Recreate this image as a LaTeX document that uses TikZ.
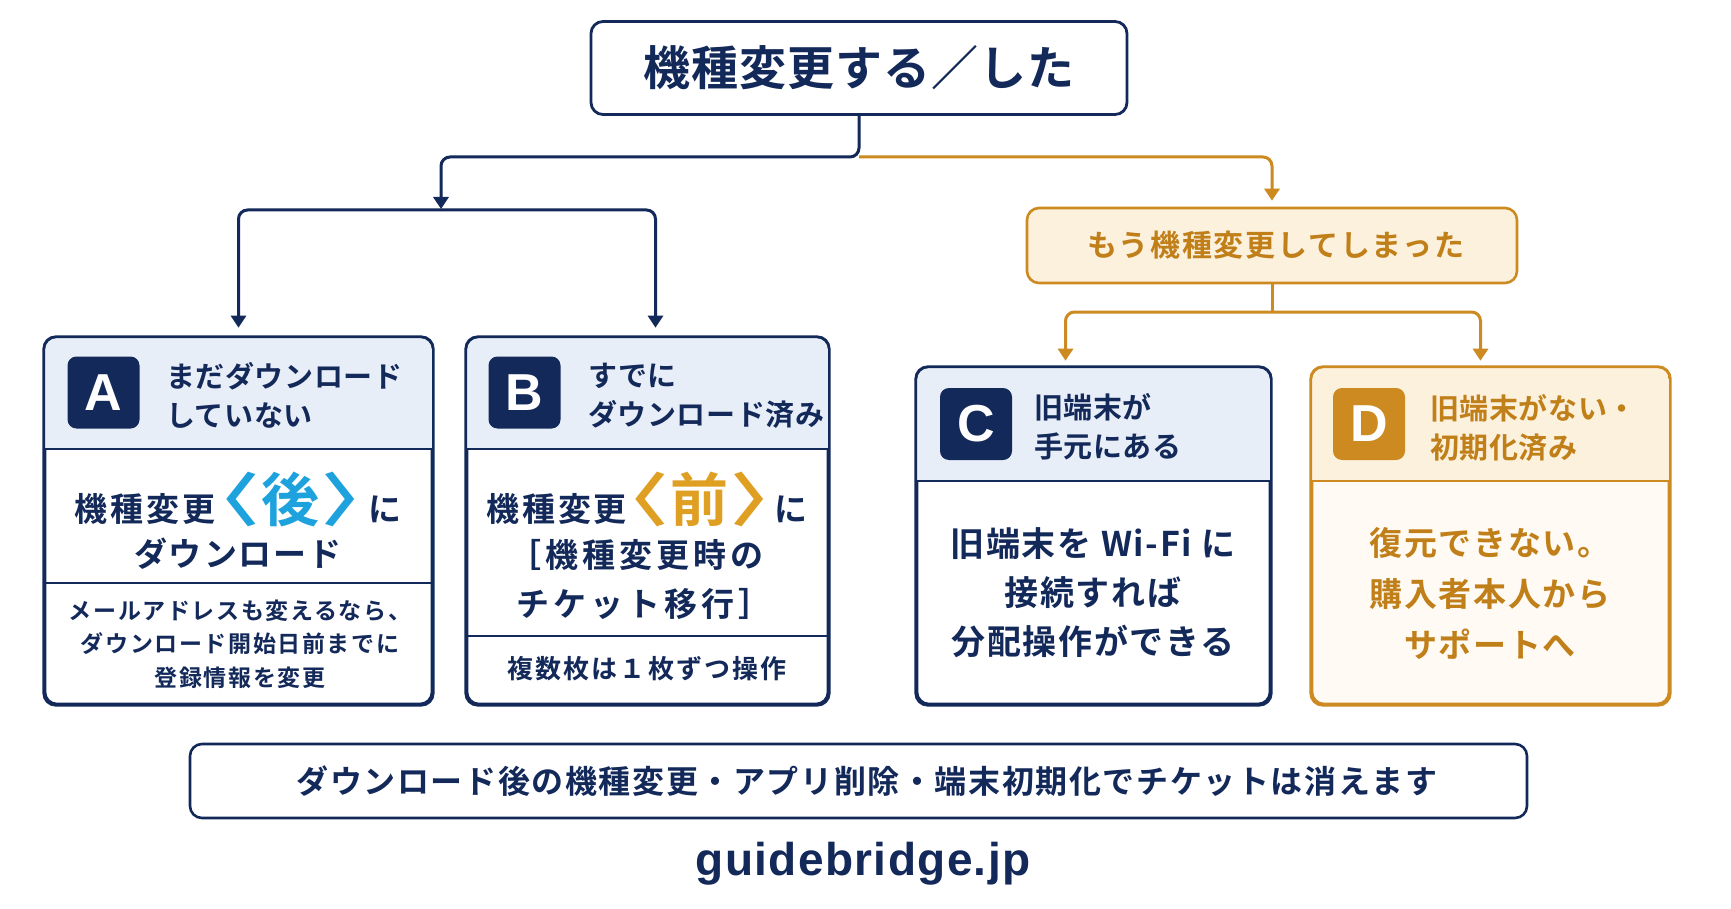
\documentclass[tikz,border=0pt]{standalone}
\usepackage{fontspec}
\setmainfont{Noto Sans CJK JP}[BoldFont={* Bold}]
\newfontfamily\latn{Liberation Sans}
\usetikzlibrary{arrows.meta}
\definecolor{navy}{HTML}{13295A}
\definecolor{hdrblue}{HTML}{E8EEF7}
\definecolor{gold}{HTML}{CC8A20}
\definecolor{goldtxt}{HTML}{C07F18}
\definecolor{cream}{HTML}{FCF1DD}
\definecolor{creamlight}{HTML}{FFFBF4}
\definecolor{cyanhl}{HTML}{1DA2DE}
\definecolor{goldhl}{HTML}{DF9F22}
\newcommand{\mysz}[2]{\fontsize{#1}{#2}\selectfont}
\newcommand{\myls}[1]{\addfontfeature{LetterSpace=#1}}
\newcommand{\mypalt}{\addfontfeature{RawFeature=+palt}}
\newcommand{\wideglyph}[1]{\scalebox{1.3}[1]{#1}}
\tikzset{
  nline/.style={draw=navy, line width=3pt, rounded corners=9pt},
  gline/.style={draw=gold, line width=3pt, rounded corners=9pt},
  tip/.style={-{Triangle[width=15pt,length=12pt]}},
  card/.style={draw=navy, line width=2.6pt, rounded corners=12pt, fill=white, inner sep=0pt},
  gcard/.style={draw=gold, line width=2.6pt, rounded corners=12pt, fill=creamlight, inner sep=0pt},
  divider/.style={draw=navy, line width=1.6pt},
  gdivider/.style={draw=gold, line width=1.6pt},
  badge/.style={fill=navy, rounded corners=9pt, minimum size=72pt, inner sep=0pt, text=white, font=\latn\bfseries\mysz{52}{52}},
  hdtxt/.style={anchor=west, align=left, inner sep=0pt, text=navy, font=\bfseries\mysz{29}{39}\myls{2}},
  body/.style={align=center, inner sep=0pt, text=navy},
}
\begin{document}
\begin{tikzpicture}[x=1pt,y=-1pt]
\useasboundingbox (0,0) rectangle (1731,909);
\fill[white] (0,0) rectangle (1731,909);

% top
\node[draw=navy, line width=2.8pt, rounded corners=12pt, fill=white, minimum width=536pt, minimum height=93pt, inner sep=0pt, text=navy, font=\bfseries\mysz{47}{50}\myls{2}] (top) at (859,68) {機種変更する／した};

% gold label
\node[draw=gold, line width=2.6pt, rounded corners=12pt, fill=cream, minimum width=490pt, minimum height=75pt, inner sep=0pt, minimum width=490pt] (goldbox) at (1272,245.5) {};
\node[inner sep=0pt, text=goldtxt, font=\bfseries\mysz{30}{32}\myls{6}] (goldtxt) at (1276,245.5) {もう機種変更してしまった};

% card A
\node[card, minimum width=387pt, minimum height=366pt] (A) at (238.5,521) {};
\begin{scope}
\clip[rounded corners=12pt] (45,338) rectangle (432,704);
\fill[hdrblue] (45,338) rectangle (432,449);
\end{scope}
\draw[divider] (45,449) -- (432,449);
\draw[divider] (45,583) -- (432,583);
\draw[navy, line width=2.6pt, rounded corners=12pt] (A.north west) rectangle (A.south east);
\node[badge] (Abadge) at (103.5,392.5) {A};
\node[hdtxt] (Ahd) at (166,395) {まだダウンロード\\していない};
\node[body, font=\bfseries\mysz{33}{40}\myls{9}] (A1) at (238,499) {機種変更\hspace{3pt}{\color{cyanhl}\mysz{58}{58}\mypalt\myls{0}\wideglyph{〈}\hspace{5pt}後\hspace{5pt}\wideglyph{〉}}\hspace{6pt}に};
\node[body, font=\bfseries\mysz{33}{40}\myls{6}] (A2) at (238,554) {ダウンロード};
\node[body, font=\bfseries\mysz{23}{33.5}\myls{7}] (Anote) at (240,644) {メールアドレスも変えるなら、\\ダウンロード開始日前までに\\登録情報を変更};

% card B
\node[card, minimum width=361pt, minimum height=366pt] (B) at (647.5,521) {};
\begin{scope}
\clip[rounded corners=12pt] (467,338) rectangle (828,704);
\fill[hdrblue] (467,338) rectangle (828,449);
\end{scope}
\draw[divider] (467,449) -- (828,449);
\draw[divider] (467,636) -- (828,636);
\draw[navy, line width=2.6pt, rounded corners=12pt] (B.north west) rectangle (B.south east);
\node[badge] (Bbadge) at (524.5,392.5) {B};
\node[hdtxt] (Bhd) at (588,396) {すでに\\ダウンロード済み};
\node[body, font=\bfseries\mysz{33}{40}\myls{8}] (B1) at (647,499) {機種変更\hspace{1pt}{\color{goldhl}\mysz{58}{58}\mypalt\myls{0}\wideglyph{〈}\hspace{5pt}前\hspace{5pt}\wideglyph{〉}}\hspace{3pt}に};
\node[body, font=\bfseries\mysz{33}{49}\myls{12}] (B2) at (644,579) {{\mypalt［}\hspace{5pt}機種変更時の\\チケット移行］};
\node[body, font=\bfseries\mysz{26}{30}\myls{8}] (Bnote) at (647,669) {複数枚は１枚ずつ操作};

% card C
\node[card, minimum width=353pt, minimum height=336pt] (C) at (1093.5,536) {};
\begin{scope}
\clip[rounded corners=12pt] (917,368) rectangle (1270,704);
\fill[hdrblue] (917,368) rectangle (1270,481);
\end{scope}
\draw[divider] (917,481) -- (1270,481);
\draw[navy, line width=2.6pt, rounded corners=12pt] (C.north west) rectangle (C.south east);
\node[badge] (Cbadge) at (976,424) {C};
\node[hdtxt] (Chd) at (1034,427) {旧端末が\\手元にある};
\node[body, font=\bfseries\mysz{34}{49}\myls{5}] (Cbody) at (1093,593) {旧端末を Wi-Fi に\\接続すれば\\分配操作ができる};

% card D
\node[gcard, minimum width=357pt, minimum height=336pt] (D) at (1490.5,536) {};
\begin{scope}
\clip[rounded corners=12pt] (1312,368) rectangle (1669,704);
\fill[cream] (1312,368) rectangle (1669,481);
\end{scope}
\draw[gdivider] (1312,481) -- (1669,481);
\draw[gold, line width=2.6pt, rounded corners=12pt] (D.north west) rectangle (D.south east);
\node[badge, fill=gold] (Dbadge) at (1369,424) {D};
\node[hdtxt, text=goldtxt] (Dhd) at (1430,428) {旧端末がない・\\初期化済み};
\node[body, text=goldtxt, font=\bfseries\mysz{33}{51}\myls{5}] (Dbody) at (1490,594) {復元できない。\\購入者本人から\\サポートへ};

% bottom note
\node[draw=navy, line width=2.6pt, rounded corners=12pt, fill=white, minimum width=1337pt, minimum height=74pt, inner sep=0pt] (note) at (858.5,781) {};
\node[inner sep=0pt, text=navy, font=\bfseries\mysz{32}{34}\myls{5}] (notetxt) at (867,781) {ダウンロード後の機種変更・アプリ削除・端末初期化でチケットは消えます};

\node[inner sep=0pt, text=navy, font=\latn\bfseries\mysz{46}{50}\addfontfeature{LetterSpace=3}] (url) at (863,864) {guidebridge.jp};

% connectors
\coordinate (j) at (859,157);
\coordinate (lm) at (441,209);
\coordinate (lj) at (441,210);
\coordinate (gj) at (1272,312);
\draw[nline, tip] (top.south) -- (j) -| (lm);
\draw[gline, tip, shorten >=6pt] (j) -| (goldbox.north);
\draw[nline, tip, shorten >=9pt] (lj) -| (A.north);
\draw[nline, tip, shorten >=9pt] (lj) -| ([xshift=8pt]B.north);
\draw[gline] (goldbox.south) -- (gj);
\draw[gline, tip, shorten >=6pt] (gj) -| ([xshift=-28pt]C.north);
\draw[gline, tip, shorten >=6pt] (gj) -| ([xshift=-10pt]D.north);
\end{tikzpicture}
\end{document}
